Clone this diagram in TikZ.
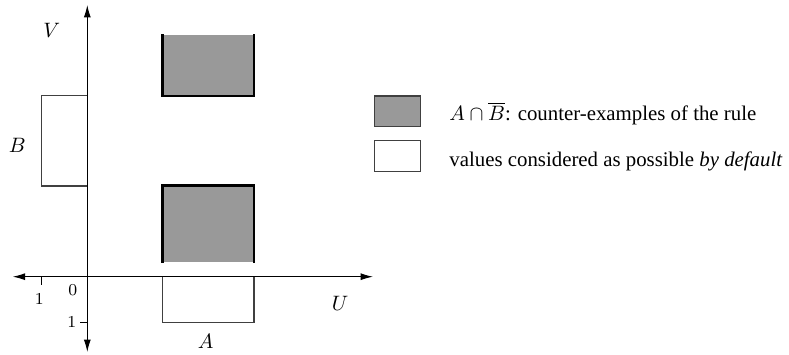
\documentclass[tikz,border=0pt]{standalone}
\usepackage{amsmath}
\usepackage{fontspec}
\setmainfont{Liberation Serif}
\usetikzlibrary{arrows.meta,positioning}

\tikzset{
  axis/.style={line width=0.5pt},
  region/.style={fill=black!40},
  border/.style={line width=1.3pt, line cap=rect},
  interval/.style={draw=black!75, line width=0.55pt},
  ticklab/.style={font=\footnotesize, inner sep=1pt},
  keybox/.style={draw=black!75, line width=0.55pt, minimum width=22pt, minimum height=14.6pt, inner sep=0pt},
  keytext/.style={anchor=base west, inner sep=0pt},
}

\begin{document}
\begin{tikzpicture}[x=0.48pt, y=-0.48pt, >={Latex[length=6pt,width=3.4pt]}]
    \useasboundingbox (0,0) rectangle (789,355);
    % axes
    \coordinate (O) at (87.3,276.7);
    \coordinate (uneg) at (12.7,276.7);
    \coordinate (upos) at (373,276.7);
    \coordinate (vpos) at (87.3,5);
    \coordinate (vneg) at (87.3,352);
    \draw[axis, <->] (uneg) -- (upos);
    \draw[axis, <->] (vneg) -- (vpos);
    % counter-examples
    \fill[region] (162.7,35) rectangle (254,96);
    \draw[border] (162.7,35) -- (162.7,96) -- (254,96) -- (254,35);
    \fill[region] (162.7,185.7) rectangle (254,261.7);
    \draw[border] (162.7,261.7) -- (162.7,185.7) -- (254,185.7) -- (254,261.7);
    % A and B
    \draw[interval] (87.3,95.7) -- (41.7,95.7) -- (41.7,186) -- (87.3,186);
    \draw[interval] (162.7,276.7) -- (162.7,322.3) -- (254,322.3) -- (254,276.7);
    % ticks
    \draw[axis] (41.7,276.7) -- (41.7,285);
    \draw[axis] (80,322.3) -- (87.3,322.3);
    \node[ticklab] (tu) at (39.3,299) {$1$};
    \node[ticklab] (tz) at (72.7,290) {$0$};
    \node[ticklab] (tv) at (71.7,322) {$1$};
    \node (labV) at (51.7,30.7) {$V$};
    \node (labU) at (340,303) {$U$};
    \node (labB) at (17.3,145) {$B$};
    \node (labA) at (205.7,341.7) {$A$};
    % legend
    \node[keybox, fill=black!40] (keyCE) at (397.2,111.2) {};
    \node[keybox] (keyDef) at (397.2,156) {};
    \node[keytext] (txtCE) at ([xshift=13.6pt, yshift=-4.6pt]keyCE.east) {$A\cap\overline{B}$: counter-examples of the rule};
    \node[keytext] (txtDef) at ([xshift=13.6pt, yshift=-5.1pt]keyDef.east) {values considered as possible \textit{by default}};
\end{tikzpicture}
\end{document}
